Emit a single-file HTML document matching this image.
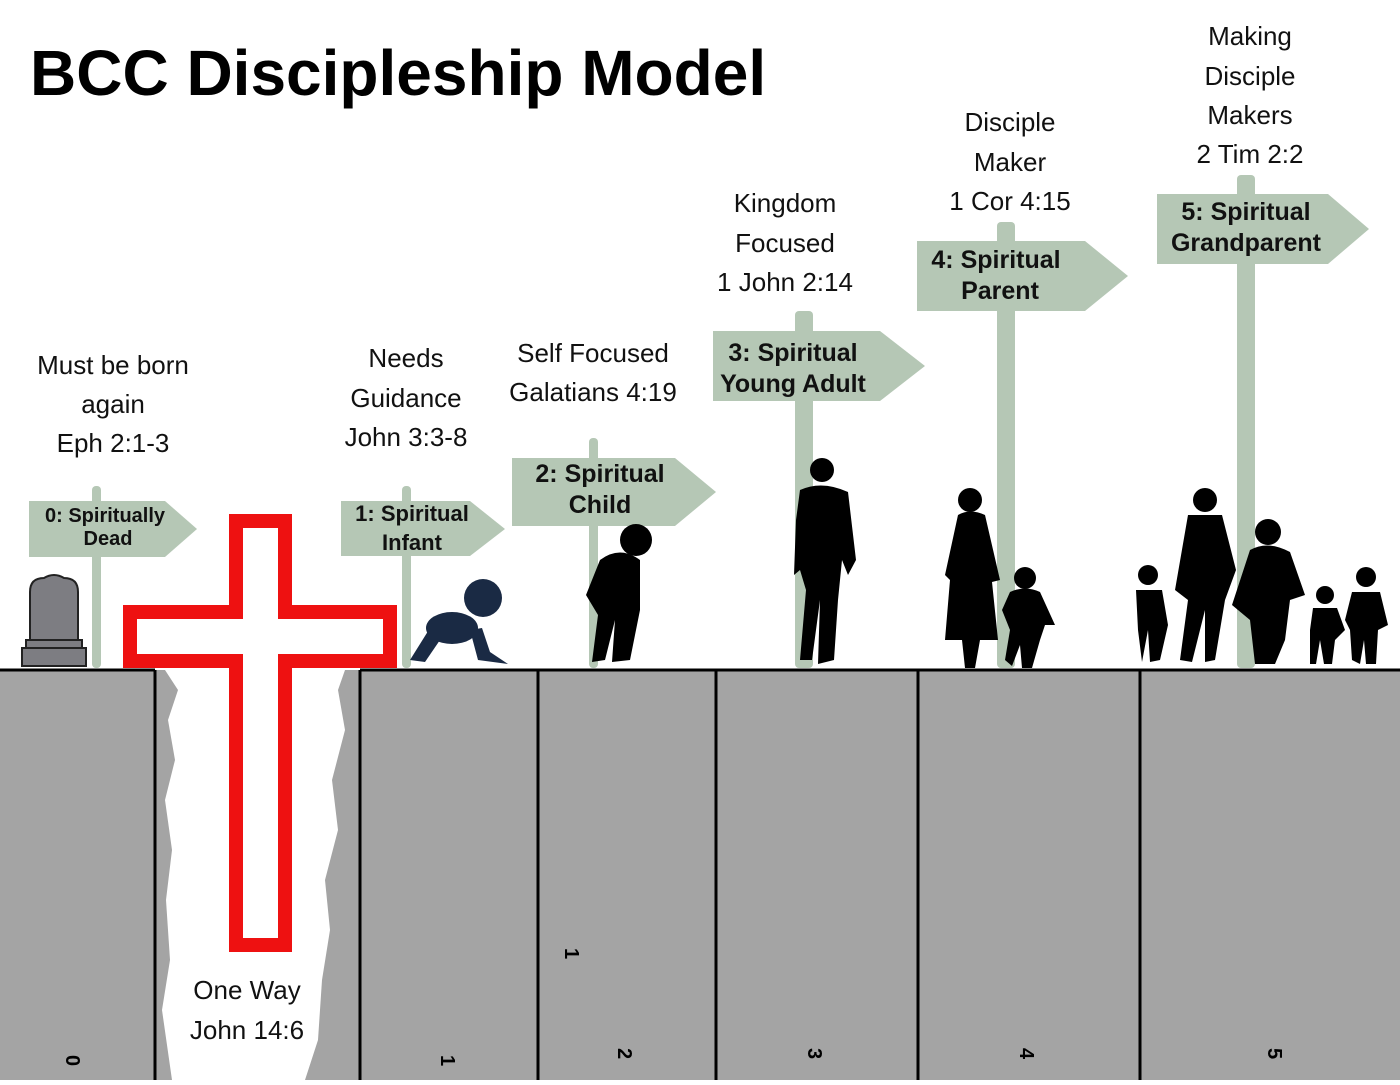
<!DOCTYPE html>
<html><head><meta charset="utf-8"><style>
body{margin:0;background:#fff;width:1400px;height:1080px;overflow:hidden}
svg text{font-family:"Liberation Sans",sans-serif}
</style></head><body>
<svg width="1400" height="1080" viewBox="0 0 1400 1080" xmlns="http://www.w3.org/2000/svg">
<text x="30" y="95" font-size="64" font-weight="bold" fill="#000">BCC Discipleship Model</text>

<rect x="0" y="670" width="1400" height="410" fill="#a4a4a4"/>
<path d="M165 670 L178 690 L168 720 L175 760 L165 800 L172 850 L166 900 L170 960 L162 1010 L172 1080 L305 1080 L318 1040 L322 980 L330 930 L325 880 L338 830 L332 780 L345 730 L338 690 L345 670 Z" fill="#fff"/>
<g stroke="#000" stroke-width="3">
<line x1="0" y1="670" x2="155" y2="670"/><line x1="360" y1="670" x2="1400" y2="670"/>
<line x1="155" y1="670" x2="155" y2="1080"/><line x1="360" y1="670" x2="360" y2="1080"/>
<line x1="538" y1="670" x2="538" y2="1080"/><line x1="716" y1="670" x2="716" y2="1080"/>
<line x1="918" y1="670" x2="918" y2="1080"/><line x1="1140" y1="670" x2="1140" y2="1080"/>
</g>
<g font-size="20" font-weight="bold" fill="#000">
<text transform="translate(66,1055) rotate(90)">0</text>
<text transform="translate(441,1055) rotate(90)">1</text>
<text transform="translate(618,1048) rotate(90)">2</text>
<text transform="translate(565,948) rotate(90)">1</text>
<text transform="translate(808,1048) rotate(90)">3</text>
<text transform="translate(1020,1048) rotate(90)">4</text>
<text transform="translate(1268,1048) rotate(90)">5</text>
</g>

<g fill="#b5c7b5">
<rect x="92" y="486" width="9" height="182" rx="4"/>
<rect x="402" y="486" width="9" height="182" rx="4"/>
<rect x="589" y="438" width="9" height="230" rx="4"/>
<rect x="795" y="311" width="18" height="357" rx="4"/>
<rect x="997" y="222" width="18" height="446" rx="4"/>
<rect x="1237" y="175" width="18" height="493" rx="4"/>
<path d="M29 501 H165 L197 529 L165 557 H29 Z"/>
<path d="M341 501 H470 L505 529 L470 556 H341 Z"/>
<path d="M512 458 H675 L716 492 L675 526 H512 Z"/>
<path d="M713 331 H880 L925 366 L880 401 H713 Z"/>
<path d="M917 241 H1085 L1128 276 L1085 311 H917 Z"/>
<path d="M1157 194 H1328 L1369 229 L1328 264 H1157 Z"/>
</g>
<g font-weight="bold" fill="#111" text-anchor="middle">
<text x="105" y="522" font-size="20">0: Spiritually</text><text x="108" y="545" font-size="20">Dead</text>
<text x="412" y="521" font-size="22">1: Spiritual</text><text x="412" y="550" font-size="22">Infant</text>
<text x="600" y="482" font-size="25">2: Spiritual</text><text x="600" y="513" font-size="25">Child</text>
<text x="793" y="361" font-size="25">3: Spiritual</text><text x="793" y="392" font-size="25">Young Adult</text>
<text x="996" y="268" font-size="25">4: Spiritual</text><text x="1000" y="299" font-size="25">Parent</text>
<text x="1246" y="220" font-size="25">5: Spiritual</text><text x="1246" y="251" font-size="25">Grandparent</text>
</g>

<g font-size="26" fill="#111" text-anchor="middle">
<text x="113" y="374">Must be born</text><text x="113" y="413">again</text><text x="113" y="452">Eph 2:1-3</text>
<text x="406" y="367">Needs</text><text x="406" y="407">Guidance</text><text x="406" y="446">John 3:3-8</text>
<text x="593" y="362">Self Focused</text><text x="593" y="401">Galatians 4:19</text>
<text x="785" y="212">Kingdom</text><text x="785" y="252">Focused</text><text x="785" y="291">1 John 2:14</text>
<text x="1010" y="131">Disciple</text><text x="1010" y="171">Maker</text><text x="1010" y="210">1 Cor 4:15</text>
<text x="1250" y="45">Making</text><text x="1250" y="85">Disciple</text><text x="1250" y="124">Makers</text><text x="1250" y="163">2 Tim 2:2</text>
<text x="247" y="999">One Way</text><text x="247" y="1039">John 14:6</text>
</g>

<path d="M236 521 H285 V612 H390 V661 H285 V945 H236 V661 H130 V612 H236 Z" fill="#fff" stroke="#ee1111" stroke-width="14"/>

<path d="M30 640 V592 Q30 578 44 578 Q54 572 64 578 Q78 578 78 592 V640 Z" fill="#7d7d82" stroke="#222" stroke-width="2"/>
<rect x="26" y="640" width="56" height="8" fill="#7d7d82" stroke="#222" stroke-width="2"/>
<rect x="22" y="648" width="64" height="18" fill="#7d7d82" stroke="#222" stroke-width="2"/>

<g fill="#1a2a44">
<circle cx="483" cy="598" r="19"/>
<ellipse cx="452" cy="628" rx="26" ry="16"/>
<path d="M430 628 L410 660 L425 662 L440 640 Z"/>
<path d="M470 630 L478 660 L508 664 L490 652 L482 628 Z"/>
</g>

<g fill="#000">
<circle cx="636" cy="540" r="16"/>
<path d="M600 560 Q620 545 640 560 L640 610 L630 660 L612 662 L615 620 L605 660 L592 662 L598 615 L586 595 Z"/>
<circle cx="822" cy="470" r="12"/>
<path d="M800 490 Q822 480 848 492 L856 560 L848 575 L842 560 L838 600 L834 660 L818 664 L820 600 L812 660 L800 660 L806 590 L800 570 L794 575 L796 520 Z"/>
<circle cx="970" cy="500" r="12"/>
<path d="M958 515 Q970 508 985 515 L1000 580 L992 582 L998 640 L980 640 L975 668 L965 668 L962 640 L945 640 L950 580 L945 575 Z"/>
<circle cx="1025" cy="578" r="11"/>
<path d="M1010 592 Q1025 585 1040 592 L1055 625 L1045 625 L1040 640 L1032 668 L1022 668 L1020 645 L1012 666 L1005 660 L1010 630 L1002 610 Z"/>
<circle cx="1148" cy="575" r="10"/><path d="M1136 590 H1162 L1168 625 L1160 660 L1150 662 L1148 630 L1142 662 L1138 630 Z"/>
<circle cx="1205" cy="500" r="12"/><path d="M1188 515 H1222 L1236 570 L1225 600 L1215 660 L1205 662 L1205 610 L1192 662 L1180 660 L1188 600 L1175 590 Z"/>
<circle cx="1268" cy="532" r="13"/><path d="M1250 550 Q1268 540 1290 552 L1305 595 L1290 600 L1285 640 L1275 664 L1255 664 L1250 620 L1232 605 Z"/>
<circle cx="1325" cy="595" r="9"/><path d="M1313 608 H1337 L1345 630 L1335 640 L1332 664 L1324 664 L1320 640 L1316 664 L1310 664 L1310 630 Z"/>
<circle cx="1366" cy="577" r="10"/><path d="M1352 592 H1380 L1388 625 L1378 630 L1376 664 L1366 664 L1364 640 L1360 664 L1352 660 L1350 630 L1345 620 Z"/>
</g>
</svg>
</body></html>
